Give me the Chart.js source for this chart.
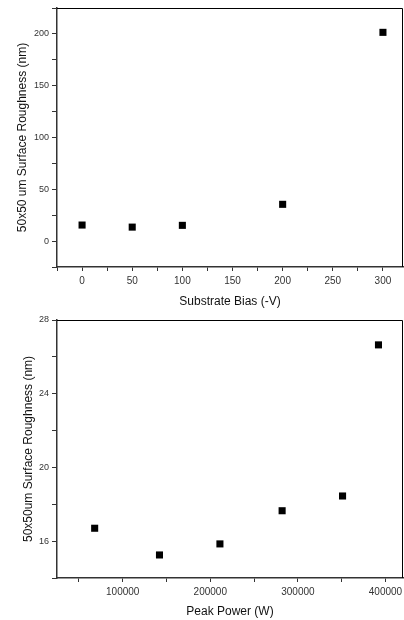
<!DOCTYPE html>
<html>
<head>
<meta charset="utf-8">
<script src="https://cdn.jsdelivr.net/npm/chart.js@4/dist/chart.umd.min.js"></script>
<style>
  body { margin:0; background:#fff; }
  canvas { display:block; }
</style>
</head>
<body>
<canvas id="biasChart" width="404" height="310"></canvas>
<canvas id="powerChart" width="404" height="310"></canvas>
<script>
// substrate bias chart
const biasX = [0, 50, 100, 200, 300];
const biasRough = [15.5, 13.5, 15.2, 35.5, 201.5];

// peak power chart
const powerX = [68000, 142000, 211000, 282000, 351000, 392000];
const powerRough = [16.7, 15.25, 15.85, 17.65, 18.45, 26.65];

const FONT = 'Liberation Sans, Arial, sans-serif';

const isMult = (v, step) => Math.abs(v / step - Math.round(v / step)) < 1e-6;

// major + minor tick positions between min and max
function tickList(min, max, step) {
  const out = [];
  for (let v = Math.ceil(min / step - 1e-9) * step; v <= max + 1e-9; v += step) out.push({value: v});
  return out;
}

// box around the plot area
const frame = {
  id: 'frame',
  afterDraw(chart) {
    const {ctx, chartArea: a} = chart;
    ctx.save();
    ctx.strokeStyle = '#000';
    ctx.lineWidth = 1;
    ctx.beginPath();
    ctx.moveTo(a.left, a.top + 0.5);
    ctx.lineTo(a.right - 0.5, a.top + 0.5);
    ctx.lineTo(a.right - 0.5, a.bottom);
    ctx.stroke();
    ctx.restore();
  }
};

function makeChart(id, xs, ys, opt) {
  return new Chart(document.getElementById(id), {
    type: 'scatter',
    data: {
      datasets: [{
        data: xs.map((x, i) => ({x: x, y: ys[i]})),
        pointStyle: 'rect',
        pointRadius: 5,
        pointHoverRadius: 5,
        backgroundColor: '#000',
        borderWidth: 0
      }]
    },
    options: {
      responsive: false,
      animation: false,
      layout: { autoPadding: false, padding: { top: opt.top, right: 1, left: 0, bottom: 0 } },
      plugins: { legend: { display: false }, tooltip: { enabled: false } },
      scales: {
        x: {
          type: 'linear',
          min: opt.xmin, max: opt.xmax,
          afterBuildTicks: s => { s.ticks = tickList(opt.xmin, opt.xmax, opt.xstep); },
          afterFit: s => {
            s.height = 310 - opt.top - opt.plotH;
            s.paddingLeft = 0; s.paddingRight = 0;
          },
          ticks: {
            autoSkip: false,
            maxRotation: 0,
            padding: 4,
            color: '#333',
            font: { family: FONT, size: 10 },
            callback: v => (isMult(v, opt.xlab) ? String(Math.round(v)) : '')
          },
          grid: { drawOnChartArea: false, tickLength: 4, tickColor: '#333' },
          border: { color: '#333', width: 1.5 },
          title: {
            display: true, text: opt.xtitle, color: '#111',
            font: { family: FONT, size: 12, lineHeight: 1.2 },
            padding: { top: 0, bottom: 1 }
          }
        },
        y: {
          min: opt.ymin, max: opt.ymax,
          afterBuildTicks: s => { s.ticks = tickList(opt.ymin, opt.ymax, opt.ystep); },
          afterFit: s => { s.width = 57; s.paddingTop = 0; s.paddingBottom = 0; },
          ticks: {
            autoSkip: false,
            padding: 3,
            color: '#333',
            font: { family: FONT, size: 9 },
            callback: v => (isMult(v, opt.ylab) ? String(Math.round(v)) : '')
          },
          grid: { drawOnChartArea: false, tickLength: 5, tickColor: '#333' },
          border: { color: '#333', width: 1.5 },
          title: {
            display: true, text: opt.ytitle, color: '#111',
            font: { family: FONT, size: 12, lineHeight: 1.2 },
            padding: { top: opt.ytitlePad, bottom: 0 }
          }
        }
      }
    },
    plugins: [frame]
  });
}

makeChart('biasChart', biasX, biasRough, {
  top: 8, plotH: 259,
  xmin: -25, xmax: 320, xstep: 25, xlab: 50,
  ymin: -25, ymax: 225, ystep: 25, ylab: 50,
  xtitle: 'Substrate Bias (-V)',
  ytitle: '50x50 um Surface Roughness (nm)',
  ytitlePad: 15
});

makeChart('powerChart', powerX, powerRough, {
  top: 10, plotH: 258,
  xmin: 25000, xmax: 420000, xstep: 50000, xlab: 100000,
  ymin: 14, ymax: 28, ystep: 2, ylab: 4,
  xtitle: 'Peak Power (W)',
  ytitle: '50x50um Surface Roughness (nm)',
  ytitlePad: 21
});
</script>
</body>
</html>
